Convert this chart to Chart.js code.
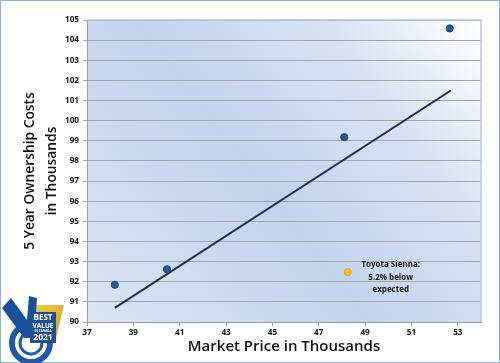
<!DOCTYPE html>
<html>
<head>
<meta charset="utf-8">
<script src="https://cdn.jsdelivr.net/npm/chart.js@4"></script>
<style>
  html, body { margin: 0; padding: 0; background: #fff; }
  #wrap { width: 500px; height: 363px; position: relative; }
</style>
</head>
<body>
<div id="wrap"><canvas id="chart"></canvas></div>
<script>
// vehicles in the segment (market price vs 5 year cost, thousands)
const marketPrice = [38.2, 40.45, 48.1, 52.65];
const ownershipCost = [91.85, 92.62, 99.18, 104.58];

// the highlighted vehicle
const siennaPrice = [48.25];
const siennaCost = [92.48];
const siennaNote = ["Toyota Sienna:", "5.2% below", "expected"];

// expected-cost trend line end points
const trendPrice = [38.2, 52.7];
const trendCost = [90.7, 101.5];

const xTickValues = [37, 39, 41, 43, 45, 47, 49, 51, 53];

const FONT = "'Open Sans', sans-serif";

const backdrop = {
  id: "backdrop",
  beforeDraw(chart) {
    const { ctx, chartArea: a } = chart;
    ctx.save();
    const g = ctx.createLinearGradient(a.left, a.bottom, a.right, a.top);
    g.addColorStop(0, "#dbe5f4");
    g.addColorStop(0.45, "#c3d3ee");
    g.addColorStop(0.75, "#d9e3f4");
    g.addColorStop(1, "#ffffff");
    ctx.fillStyle = g;
    ctx.fillRect(a.left, a.top, a.right - a.left, a.bottom - a.top);
    ctx.restore();
  },
  afterDraw(chart) {
    const { ctx, chartArea: a, scales } = chart;
    ctx.save();
    // plot frame (top / right)
    ctx.strokeStyle = "#b4c6e2";
    ctx.lineWidth = 1.5;
    ctx.beginPath();
    ctx.moveTo(a.left, a.top);
    ctx.lineTo(a.right, a.top);
    ctx.lineTo(a.right, a.bottom);
    ctx.stroke();

    // note beside the sienna point
    ctx.fillStyle = "#1a1a1a";
    ctx.font = "bold 8px " + FONT;
    ctx.textAlign = "center";
    ctx.textBaseline = "middle";
    const cx = scales.x.getPixelForValue(siennaPrice[0]) + 43;
    const cy = scales.y.getPixelForValue(siennaCost[0]);
    siennaNote.forEach((line, i) => {
      ctx.fillText(line, cx, cy - 7 + i * 12.3);
    });

    // outer border
    ctx.strokeStyle = "#8fb0d8";
    ctx.lineWidth = 1;
    ctx.strokeRect(0.5, 0.5, chart.width - 1, chart.height - 1);

    drawBadge(ctx);
    ctx.restore();
  }
};

// rough version of the "best value in canada 2021" badge
function drawBadge(ctx) {
  ctx.save();
  // gold shield
  const sg = ctx.createLinearGradient(30, 305, 64, 340);
  sg.addColorStop(0, "#f3cf4a");
  sg.addColorStop(1, "#d59a1c");
  ctx.fillStyle = sg;
  ctx.beginPath();
  ctx.moveTo(29, 305);
  ctx.lineTo(64, 305);
  ctx.lineTo(56, 338);
  ctx.lineTo(32, 342);
  ctx.closePath();
  ctx.fill();
  // blue rings
  ctx.strokeStyle = "#1f5aa8";
  ctx.lineWidth = 6;
  ctx.beginPath();
  ctx.arc(31, 343, 19, 0, Math.PI * 2);
  ctx.stroke();
  ctx.strokeStyle = "#ffffff";
  ctx.lineWidth = 1.5;
  ctx.beginPath();
  ctx.arc(31, 343, 15, 0, Math.PI * 2);
  ctx.stroke();
  ctx.strokeStyle = "#1f5aa8";
  ctx.lineWidth = 3;
  ctx.beginPath();
  ctx.arc(31, 343, 11, 0, Math.PI * 2);
  ctx.stroke();
  // V check mark
  ctx.fillStyle = "#1a4f99";
  ctx.beginPath();
  ctx.moveTo(2, 308);
  ctx.lineTo(11, 298);
  ctx.lineTo(27, 320);
  ctx.lineTo(29, 296);
  ctx.lineTo(37, 298);
  ctx.lineTo(34, 338);
  ctx.lineTo(24, 338);
  ctx.closePath();
  ctx.fill();
  // text panel
  ctx.fillStyle = "#1f4f91";
  ctx.fillRect(30, 312, 26, 31);
  ctx.fillStyle = "#ffffff";
  ctx.textAlign = "center";
  ctx.textBaseline = "middle";
  ctx.font = "bold 8px " + FONT;
  ctx.fillText("BEST", 43, 318);
  ctx.font = "bold 6.5px " + FONT;
  ctx.fillText("VALUE", 43, 326);
  ctx.font = "bold 3px " + FONT;
  ctx.fillText("IN CANADA", 43, 331);
  ctx.font = "bold 8.5px " + FONT;
  ctx.fillText("2021", 43, 338);
  ctx.restore();
}

new Chart(document.getElementById("chart"), {
  type: "scatter",
  data: {
    datasets: [
      {
        type: "line",
        label: "Expected",
        data: trendPrice.map((x, i) => ({ x: x, y: trendCost[i] })),
        borderColor: "#1b2e52",
        borderWidth: 2,
        pointRadius: 0,
        fill: false,
        order: 3
      },
      {
        label: "Segment",
        data: marketPrice.map((x, i) => ({ x: x, y: ownershipCost[i] })),
        backgroundColor: "#275897",
        borderColor: "#1d4477",
        borderWidth: 1,
        pointRadius: 3.6,
        order: 1
      },
      {
        label: "Toyota Sienna",
        data: siennaPrice.map((x, i) => ({ x: x, y: siennaCost[i] })),
        backgroundColor: "#f7be16",
        borderColor: "#e2aa10",
        borderWidth: 1,
        pointRadius: 3.6,
        order: 2
      }
    ]
  },
  options: {
    responsive: true,
    maintainAspectRatio: false,
    animation: false,
    events: [],
    layout: { padding: { left: 19, right: 19, top: 20, bottom: 7 } },
    plugins: {
      legend: { display: false },
      tooltip: { enabled: false }
    },
    scales: {
      x: {
        type: "linear",
        min: 37,
        max: 54,
        afterBuildTicks: (scale) => {
          scale.ticks = xTickValues.map((v) => ({ value: v }));
        },
        afterFit: (scale) => { scale.height = 34; },
        grid: {
          drawOnChartArea: false,
          drawTicks: true,
          tickLength: 4,
          color: "#9a9a9a"
        },
        border: { color: "#9a9a9a", width: 1 },
        ticks: {
          color: "#111",
          font: { family: FONT, size: 8.2, weight: "bold" },
          padding: 2,
          maxRotation: 0
        },
        title: {
          display: true,
          text: "Market Price in Thousands",
          color: "#111",
          font: { family: FONT, size: 15, weight: 600 },
          padding: { top: 0, bottom: 0 }
        }
      },
      y: {
        min: 90,
        max: 105,
        afterFit: (scale) => { scale.width = 68; },
        grid: {
          color: "#a4a4a4",
          lineWidth: 1,
          tickLength: 4
        },
        border: { color: "#9a9a9a", width: 1 },
        ticks: {
          stepSize: 1,
          color: "#111",
          font: { family: FONT, size: 8.2, weight: "bold" },
          padding: 4
        },
        title: {
          display: true,
          text: ["5 Year Ownership Costs", "in Thousands"],
          color: "#111",
          font: { family: FONT, size: 13.8, weight: 600, lineHeight: 1.6 },
          padding: { top: 0, bottom: 0 }
        }
      }
    }
  },
  plugins: [backdrop]
});
</script>
</body>
</html>
